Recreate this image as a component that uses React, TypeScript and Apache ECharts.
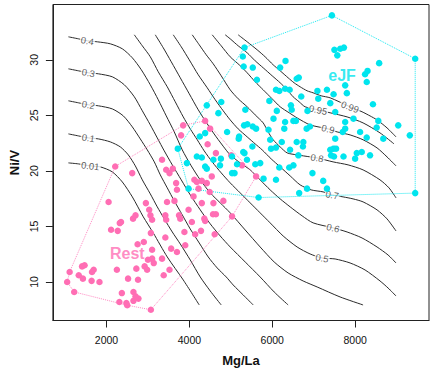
import React, { useEffect, useRef } from 'react';
import * as echarts from 'echarts';

const xTicks = [2000, 4000, 6000, 8000];
const yTicks = [10, 15, 20, 25, 30];

// eJF samples (Mg/La, Ni/V)
const cyanPts: [number, number][] = [
  [7440,34.0],[9450,30.1],[9450,18.0],[5670,17.6],[3980,18.4],[3720,22.0],[4420,25.9],[5330,31.1],[5290,30.3],[5310,29.4],
  [7500,30.9],[7640,31.0],[7730,31.1],[7570,30.4],[6320,29.9],[6190,29.3],[5530,29.3],[5630,28.2],[8580,29.7],[8300,29.0],
  [8240,28.7],[8280,28.0],[6640,28.4],[6590,28.3],[7760,27.7],[6090,27.3],[6170,27.2],[6310,27.4],[6420,27.3],[7090,27.2],
  [7320,27.3],[7480,26.9],[7800,27.0],[6700,26.7],[7110,26.5],[5930,26.3],[7400,26.1],[6450,25.9],[6470,25.5],[8430,26.0],
  [5350,25.5],[6110,25.4],[6850,25.4],[7520,25.3],[7960,24.7],[6030,24.7],[6310,24.4],[6510,24.5],[6570,24.5],[7760,24.4],
  [8560,24.5],[9040,24.1],[5320,24.1],[5400,24.2],[5530,24.0],[5610,23.8],[5910,23.7],[6290,23.8],[6910,24.0],[6830,23.8],
  [7760,23.8],[7700,23.5],[8520,23.9],[8120,23.5],[5190,22.9],[5950,22.8],[6230,22.6],[6590,22.6],[6750,22.6],[7520,22.9],
  [8280,23.0],[8680,22.9],[9320,23.2],[5520,22.2],[5970,22.0],[6090,22.1],[6430,21.9],[6740,22.2],[7400,21.9],[7480,22.0],
  [7540,22.0],[5330,21.6],[6630,21.4],[7420,21.4],[7490,21.3],[8040,21.6],[8160,21.7],[8360,21.4],[7720,21.3],[8000,21.1],
  [5090,19.8],[5150,20.6],[5390,21.0],[5590,20.6],[5710,20.7],[5790,19.3],[6090,19.2],[6170,20.3],[6410,20.3],[6510,20.5],
  [6970,19.8],[7230,19.1],[6840,18.4],[7320,18.4],[6650,18.0],[4180,21.3],[4300,21.2],[4580,21.0],[4740,20.5],[5030,21.3],
  [5030,19.8],[5300,21.7],[3940,20.7],[4380,20.4],[4420,20.2],[4770,26.2],[4700,25.2],[4910,23.5],[5200,23.1],[4380,23.4],
  [4250,23.1],[4760,21.1]
];

// Rest samples
const pinkPts: [number, number][] = [
  [3850,24.1],[3800,23.2],[4380,24.5],[4500,23.8],[4440,22.4],[3340,21.0],[5010,21.4],[4640,21.6],[5270,20.5],[5610,19.5],
  [5030,15.9],[2210,20.4],[2620,19.8],[2050,17.2],[2320,15.3],[2350,15.4],[2640,15.7],[2700,16.0],[2110,14.7],[2270,14.6],
  [2950,17.1],[3030,16.5],[3060,16.0],[3100,15.6],[3070,14.4],[2900,13.6],[2750,13.4],[3100,12.9],[3440,20.1],[3520,19.8],
  [3600,20.2],[3460,17.2],[3680,18.9],[3700,18.3],[3640,17.3],[3420,16.0],[3440,15.6],[3750,16.0],[3780,15.7],[3420,14.0],
  [3560,13.0],[3700,12.7],[3900,13.3],[3880,14.5],[4060,15.4],[3980,16.5],[4300,17.1],[4140,14.3],[4280,14.6],[4360,15.7],
  [4380,15.5],[4610,14.3],[4570,16.1],[4640,16.1],[4580,17.1],[4820,17.3],[4100,17.7],[4220,18.4],[4120,19.2],[4180,19.0],
  [4300,19.1],[4420,18.9],[4540,19.5],[4490,18.1],[3340,12.1],[1110,10.9],[1050,10.0],[1220,9.1],[1330,10.6],[1430,10.3],
  [1410,11.4],[1470,11.5],[1650,10.9],[1690,11.1],[1640,10.1],[1830,10.0],[2250,11.1],[2520,10.3],[2760,10.2],[2720,11.2],
  [2370,9.0],[2650,9.1],[2310,8.2],[2480,8.1],[2500,7.9],[2650,8.3],[2770,8.5],[2700,8.7],[3070,7.5],[2920,11.4],
  [2980,11.1],[3000,12.0],[3100,12.1],[3140,11.7],[3380,10.6],[3520,11.1]
];

// probability contours
const c001 = [[1080,20.72],[1321,20.63],[1610,20.45],[1851,20.36],[2140,19.91],[2382,19.0],[2623,17.66],[2888,15.86],[3129,14.41],[3466,12.25],[3852,10.18],[4238,7.93]];
const c01 = [[1080,23.33],[1321,23.15],[1562,22.97],[1803,22.88],[2092,22.61],[2333,22.16],[2526,21.44],[2695,20.45],[2864,19.19],[3057,17.93],[3225,16.76],[3394,15.68],[3587,14.5],[3780,13.42],[4021,11.98],[4262,10.45],[4503,9.19],[4768,7.93]];
const c02 = [[1080,26.31],[1321,26.13],[1562,25.95],[1803,25.86],[2140,25.58],[2406,24.95],[2623,23.96],[2815,22.88],[2984,21.89],[3153,20.81],[3298,19.64],[3466,18.47],[3635,17.3],[3828,16.04],[4021,14.77],[4238,13.51],[4455,12.25],[4672,11.26],[4889,10.45],[5057,9.73],[5299,8.83],[5540,7.93]];
const c03 = [[1080,29.19],[1321,29.01],[1562,28.83],[1803,28.74],[2140,28.47],[2430,27.75],[2671,26.67],[2864,25.41],[3057,24.14],[3225,22.97],[3394,21.8],[3587,20.54],[3804,19.19],[4021,17.84],[4262,16.49],[4503,15.23],[4744,14.14],[4985,13.15],[5347,11.8],[5708,10.45],[6046,9.1],[6383,7.93]];
const c04 = [[1080,32.07],[1321,31.89],[1538,31.71],[1779,31.62],[2092,31.44],[2382,30.99],[2623,30.18],[2840,29.1],[3057,27.75],[3249,26.4],[3442,24.95],[3635,23.51],[3828,21.89],[4045,20.45],[4262,19.19],[4503,18.02],[4744,17.12],[4985,16.22],[5347,14.68],[5708,13.15],[6046,11.8],[6383,10.81],[6745,10.09],[7083,9.55],[7637,8.65],[8192,7.93]];
const c05 = [[2671,32.25],[2864,31.26],[3057,30.27],[3249,28.92],[3466,27.57],[3659,26.22],[3852,24.86],[4021,23.78],[4190,22.8],[4358,21.8],[4551,20.81],[4768,19.82],[4985,18.92],[5226,18.02],[5467,17.12],[5708,16.22],[5949,15.32],[6263,14.14],[6600,13.15],[6914,12.52],[7203,12.16],[7517,12.07],[7878,11.71],[8240,11.08],[8601,10.09],[8794,9.46],[8987,8.74]];
const c06 = [[3177,32.25],[3370,31.08],[3563,29.82],[3780,28.38],[3997,26.94],[4214,25.5],[4431,24.23],[4648,23.06],[4865,21.98],[4985,21.44],[5226,20.72],[5467,20.09],[5708,19.19],[5949,18.29],[6191,17.48],[6432,16.76],[6721,15.95],[6986,15.32],[7468,14.87],[7806,14.5],[8167,13.96],[8529,13.15],[8794,12.43],[8987,11.71]];
const c07 = [[3611,32.25],[3804,31.17],[3997,30.0],[4214,28.65],[4431,27.48],[4624,26.4],[4816,25.41],[4985,24.59],[5178,23.78],[5395,23.06],[5588,22.43],[5757,21.89],[5974,21.08],[6191,20.36],[6432,19.55],[6673,18.74],[6938,18.29],[7227,18.11],[7444,17.84],[7709,17.66],[7950,17.48],[8192,17.21],[8529,16.49],[8770,15.68],[8987,14.59]];
const c08 = [[4069,32.25],[4238,31.35],[4407,30.45],[4575,29.64],[4768,28.56],[4985,27.3],[5178,26.49],[5395,25.77],[5588,25.04],[5781,24.32],[5901,23.51],[6022,22.8],[6191,22.16],[6359,21.62],[6600,21.44],[6914,21.26],[7083,21.17],[7468,20.81],[7830,20.54],[8192,20.09],[8601,19.19],[8818,18.47],[8987,17.57]];
const c09 = [[4551,32.25],[4768,31.26],[4985,30.27],[5202,29.55],[5395,28.83],[5588,28.02],[5781,27.3],[5998,26.49],[6191,25.77],[6408,25.23],[6600,24.77],[6914,24.14],[7348,23.78],[7565,23.51],[7878,23.24],[8192,22.8],[8529,22.07],[8770,21.26],[8987,20.45]];
const c095 = [[4865,32.25],[4985,31.89],[5178,31.26],[5395,30.63],[5588,29.91],[5781,29.28],[5998,28.56],[6191,27.93],[6359,27.3],[6504,26.67],[6649,26.22],[6793,25.77],[7107,25.5],[7396,25.23],[7806,24.86],[8192,24.32],[8601,23.42],[8939,22.43]];
const c099 = [[5178,32.25],[5395,31.62],[5636,30.9],[5829,30.27],[6022,29.55],[6191,29.01],[6383,28.38],[6528,27.93],[6673,27.57],[6841,27.21],[6986,27.03],[7179,26.76],[7396,26.58],[7878,25.77],[8167,25.32],[8360,24.95],[8529,24.59],[8770,23.87],[8987,23.06]];

const contourLines = [c001, c01, c02, c03, c04, c05, c06, c07, c08, c09, c095, c099];

// contour label text and where it sits (data units)
const contourLabelText = ['0.01', '0.1', '0.2', '0.3', '0.4', '0.5', '0.6', '0.7', '0.8', '0.9', '0.95', '0.99'];
const contourLabelPos = [[1610,20.45],[1562,22.97],[1562,25.95],[1562,28.83],[1538,31.71],[7203,12.16],[7468,14.87],[7444,17.84],[7083,21.17],[7348,23.78],[7107,25.5],[7878,25.77]];
const contourLabelAngle = [-7, -10, -10, -10, -10, -10, -14, -12, -10, -14, -13, -20];

const groupNames = ['eJF', 'Rest'];
const groupLabelPos = [[7685, 28.56], [2502, 12.52]];

const CYAN = '#00E5EE';
const PINK = '#FF6EB4';
const FONT = '"Liberation Sans", Arial, Helvetica, sans-serif';

function convexHull(points: [number, number][]) {
  const p = points.slice().sort((a, b) => a[0] - b[0] || a[1] - b[1]);
  const cross = (o: number[], a: number[], b: number[]) =>
    (a[0] - o[0]) * (b[1] - o[1]) - (a[1] - o[1]) * (b[0] - o[0]);
  const lower: [number, number][] = [];
  for (const pt of p) {
    while (lower.length >= 2 && cross(lower[lower.length - 2], lower[lower.length - 1], pt) <= 0) lower.pop();
    lower.push(pt);
  }
  const upper: [number, number][] = [];
  for (let i = p.length - 1; i >= 0; i--) {
    const pt = p[i];
    while (upper.length >= 2 && cross(upper[upper.length - 2], upper[upper.length - 1], pt) <= 0) upper.pop();
    upper.push(pt);
  }
  upper.pop();
  lower.pop();
  const h = lower.concat(upper);
  h.push(h[0]);
  return h;
}

export default function App() {
  const ref = useRef<HTMLDivElement>(null);
  useEffect(() => {
    document.body.style.margin = '0';
    const chart = echarts.init(ref.current!, null, { renderer: 'svg' });
    const series: any[] = [];
    contourLines.forEach((line) => {
      series.push({
        type: 'line', data: line, symbol: 'none', showSymbol: false, smooth: 0.25, silent: true, z: 1,
        lineStyle: { color: '#2a2a2a', width: 1 },
      });
    });
    series.push({
      type: 'scatter', symbolSize: 0.1, silent: true, z: 2,
      itemStyle: { color: 'rgba(0,0,0,0)' },
      data: contourLabelPos.map((p, i) => ({
        value: p, name: contourLabelText[i], label: { rotate: contourLabelAngle[i] },
      })),
      label: {
        show: true, position: 'inside', formatter: (d: any) => d.name,
        fontSize: 9.5, color: '#333', fontFamily: FONT,
        backgroundColor: '#fff', padding: [0, 1],
      },
    });
    series.push({
      type: 'line', data: convexHull(pinkPts), symbol: 'none', silent: true, z: 3,
      lineStyle: { color: PINK, width: 1, type: 'dotted', opacity: 0.8 },
    });
    series.push({
      type: 'line', data: convexHull(cyanPts), symbol: 'none', silent: true, z: 3,
      lineStyle: { color: CYAN, width: 1, type: 'dotted', opacity: 0.9 },
    });
    series.push({
      type: 'scatter', data: pinkPts, symbolSize: 6.5, silent: true, z: 4,
      itemStyle: { color: PINK, opacity: 1 },
    });
    series.push({
      type: 'scatter', data: cyanPts, symbolSize: 6.5, silent: true, z: 4,
      itemStyle: { color: CYAN, opacity: 1 },
    });
    series.push({
      type: 'scatter', symbolSize: 0.1, silent: true, z: 5,
      itemStyle: { color: 'rgba(0,0,0,0)' },
      data: groupLabelPos.map((p, i) => ({
        value: p, name: groupNames[i], label: { color: i === 0 ? CYAN : PINK },
      })),
      label: {
        show: true, position: 'inside', formatter: (d: any) => d.name,
        fontSize: 16, fontWeight: 'bold', fontFamily: FONT,
      },
    });

    chart.setOption({
      animation: false,
      backgroundColor: '#fff',
      grid: { left: 52.5, right: 7, top: 4.5, bottom: 52.5, show: true, borderColor: '#222', borderWidth: 1 },
      xAxis: {
        type: 'value', min: 706, max: 9783,
        axisLine: { show: true, lineStyle: { color: '#222' } },
        axisTick: { show: true, customValues: xTicks, length: 7, lineStyle: { color: '#222' } },
        axisLabel: {
          customValues: xTicks, margin: 14, fontSize: 10.5, color: '#111', fontFamily: FONT,
          formatter: (v: number) => String(v),
        },
        splitLine: { show: false },
        name: 'Mg/La', nameLocation: 'middle', nameGap: 33,
        nameTextStyle: { fontSize: 13, fontWeight: 'bold', color: '#111', fontFamily: FONT },
      },
      yAxis: {
        type: 'value', min: 6.53, max: 34.98,
        axisLine: { show: true, lineStyle: { color: '#222' } },
        axisTick: { show: true, customValues: yTicks, length: 7, lineStyle: { color: '#222' } },
        axisLabel: {
          customValues: yTicks, margin: 13, rotate: 90, fontSize: 10.5, color: '#111', fontFamily: FONT,
          formatter: (v: number) => String(v),
        },
        splitLine: { show: false },
        name: 'Ni/V', nameLocation: 'middle', nameGap: 31, nameRotate: 90,
        nameTextStyle: { fontSize: 13, fontWeight: 'bold', color: '#111', fontFamily: FONT },
      },
      series,
    });
    return () => chart.dispose();
  }, []);
  return <div ref={ref} style={{ width: 436, height: 373, background: '#fff' }} />;
}
